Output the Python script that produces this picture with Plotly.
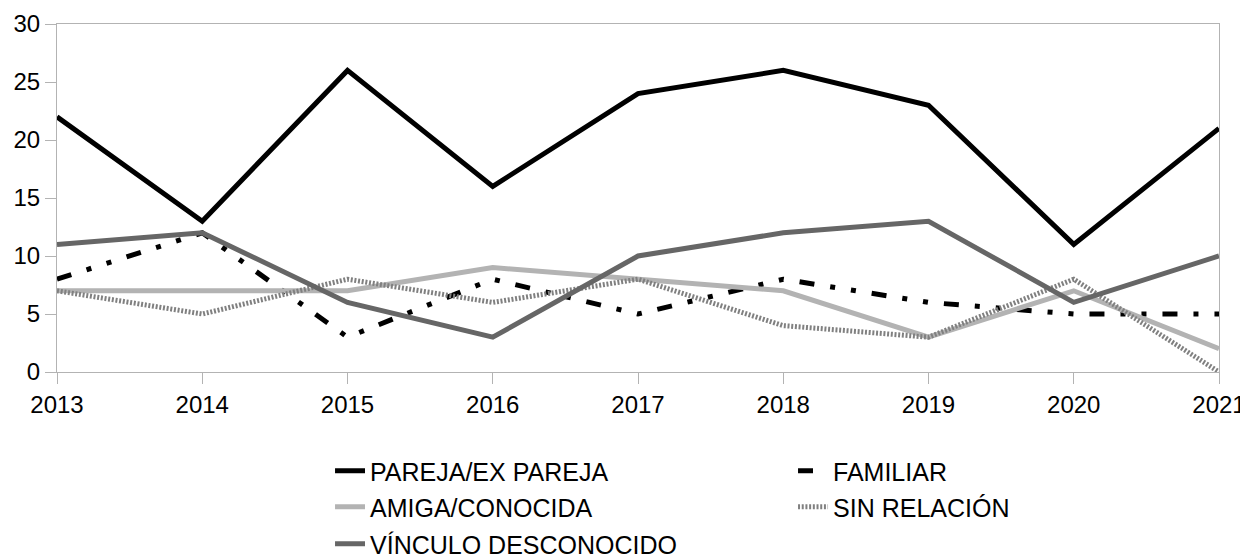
import plotly.graph_objects as go

years = [2013, 2014, 2015, 2016, 2017, 2018, 2019, 2020, 2021]
pareja = [22, 13, 26, 16, 24, 26, 23, 11, 21]
familiar = [8, 12, 3, 8, 5, 8, 6, 5, 5]
amiga = [7, 7, 7, 9, 8, 7, 3, 7, 2]
sin_relacion = [7, 5, 8, 6, 8, 4, 3, 8, 0]
vinculo = [11, 12, 6, 3, 10, 12, 13, 6, 10]

series = [
    ("PAREJA/EX PAREJA", pareja, "#000000", "solid", "legend"),
    ("FAMILIAR", familiar, "#000000", "15px,16px,5px,16px,5px,16px", "legend"),
    ("AMIGA/CONOCIDA", amiga, "#b3b3b3", "solid", "legend2"),
    ("SIN RELACIÓN", sin_relacion, "#808080", "2px,1.7px", "legend2"),
    ("VÍNCULO DESCONOCIDO", vinculo, "#666666", "solid", "legend3"),
]

fig = go.Figure()
for name, vals, color, dash, leg in series:
    fig.add_trace(go.Scatter(x=years, y=vals, name=name, mode="lines", legend=leg,
                             line=dict(color=color, width=5, dash=dash)))

FONT = "Liberation Sans, Arial, sans-serif"
W, H = 1240, 551  # page body has an 8px margin
axis_common = dict(showgrid=False, showline=True, linecolor="#b3b3b3", linewidth=1,
                   mirror=True, ticks="outside", ticklen=11, tickcolor="#b3b3b3",
                   zeroline=False, tickfont=dict(size=24, family=FONT, color="#000"))

def leg(y):
    return dict(orientation="h", xref="container", yref="container",
                x=0.2597, xanchor="left", y=y, yanchor="middle",
                entrywidth=418, entrywidthmode="pixels",
                font=dict(size=25, family=FONT, color="#000"),
                bgcolor="rgba(0,0,0,0)")

fig.update_layout(
    width=W, height=H,
    margin=dict(l=49, r=29, t=16, b=187, autoexpand=False),
    paper_bgcolor="white", plot_bgcolor="white",
    font=dict(family=FONT, size=24, color="#000000"),
    xaxis=dict(range=[2013, 2021], dtick=1, tickmode="linear", **axis_common),
    yaxis=dict(range=[0, 30], dtick=5, **axis_common),
    legend=leg(1 - 463 / H),
    legend2=leg(1 - 499 / H),
    legend3=leg(1 - 536 / H),
    showlegend=True,
)

fig.write_html("out.html")
